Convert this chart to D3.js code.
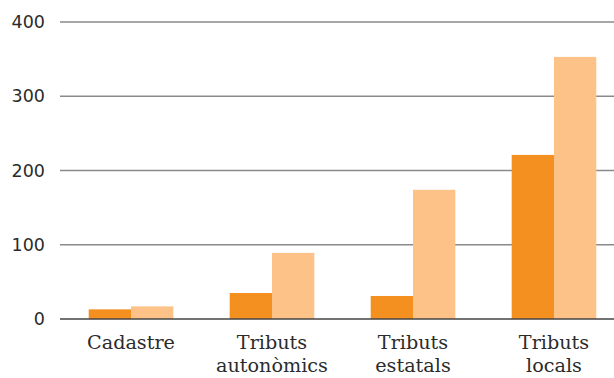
<!DOCTYPE html>
<html>
<head>
<meta charset="utf-8">
<script src="https://cdn.jsdelivr.net/npm/d3@7"></script>
<style>
  body { margin: 0; background: #fff; }
  svg text { fill: #2b2b2b; }
</style>
</head>
<body>
<svg id="chart" width="614" height="378"></svg>
<script>
var categories = [["Cadastre"], ["Tributs", "autonòmics"], ["Tributs", "estatals"], ["Tributs", "locals"]];
var seriesA = [13, 35, 31, 221];
var seriesB = [17, 89, 174, 353];
var yTicks = [0, 100, 200, 300, 400];

var width = 614, height = 378;
var svg = d3.select("#chart");

var x = d3.scaleBand()
    .domain(d3.range(categories.length))
    .range([60.5, 624.5])
    .paddingInner(0.4)
    .paddingOuter(0.2);

var sub = d3.scaleBand()
    .domain([0, 1])
    .range([0, x.bandwidth()]);

var y = d3.scaleLinear()
    .domain([0, 400])
    .range([319, 22]);

// grid
svg.append("g").selectAll("line")
    .data(yTicks.filter(function(d){ return d > 0; }))
  .enter().append("line")
    .attr("x1", 60).attr("x2", width)
    .attr("y1", function(d){ return y(d); })
    .attr("y2", function(d){ return y(d); })
    .attr("stroke", "#8a8a8a")
    .attr("stroke-width", 1.6);

svg.append("g").selectAll("text")
    .data(yTicks)
  .enter().append("text")
    .attr("x", 45)
    .attr("y", function(d){ return y(d); })
    .attr("dy", "0.35em")
    .attr("text-anchor", "end")
    .style("font-family", "'DejaVu Sans', sans-serif")
    .style("font-size", "17.5px")
    .text(function(d){ return d; });

// bars
var series = [seriesA, seriesB];
var colors = ["#f39020", "#fcc288"];
series.forEach(function(s, si){
  svg.append("g").selectAll("rect")
      .data(s)
    .enter().append("rect")
      .attr("x", function(d, i){ return x(i) + sub(si); })
      .attr("width", sub.bandwidth())
      .attr("y", function(d){ return y(d); })
      .attr("height", function(d){ return y(0) - y(d); })
      .attr("fill", colors[si]);
});

// baseline
svg.append("line")
    .attr("x1", 60).attr("x2", width)
    .attr("y1", y(0)).attr("y2", y(0))
    .attr("stroke", "#444")
    .attr("stroke-width", 1.6);

// category labels
var lab = svg.append("g").selectAll("text")
    .data(categories)
  .enter().append("text")
    .attr("x", function(d, i){ return x(i) + x.bandwidth() / 2; })
    .attr("y", 349)
    .attr("text-anchor", "middle")
    .style("font-family", "'DejaVu Serif', serif")
    .style("font-size", "19.2px");

lab.selectAll("tspan")
    .data(function(d){ return d; })
  .enter().append("tspan")
    .attr("x", function(){ return d3.select(this.parentNode).attr("x"); })
    .attr("dy", function(d, i){ return i ? 23 : 0; })
    .text(function(d){ return d; });
</script>
</body>
</html>
